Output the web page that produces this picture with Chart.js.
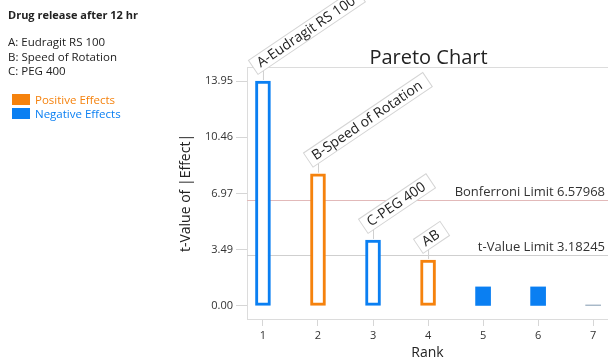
<!DOCTYPE html>
<html lang="en">
<head>
<meta charset="UTF-8">
<title>Pareto Chart</title>
<script src="https://cdn.jsdelivr.net/npm/chart.js"></script>
<style>
  body { margin: 0; background: #fff; font-family: 'Open Sans', sans-serif; }
  #wrap { position: relative; width: 608px; height: 361px; }
  #side { position: absolute; left: 8px; top: 0; font-size: 11.5px; color: #222; }
  #side .hd { position: absolute; top: 7px; font-weight: bold; white-space: nowrap; font-size: 11px; }
  #side .fac { position: absolute; white-space: nowrap; }
  #side .key { position: absolute; left: 4px; white-space: nowrap; }
  #side .key span { display: inline-block; width: 18px; height: 11px; vertical-align: -1px; margin-right: 5px; }
</style>
</head>
<body>
<div id="wrap">
  <canvas id="myChart" width="608" height="361"></canvas>
  <div id="side"></div>
</div>
<script>
// effects in rank order
const ranks = [1, 2, 3, 4, 5, 6, 7];
const tValues = [13.95, 8.2, 4.09, 2.85, 1.18, 1.18, 0.06];
const effectLabels = ['A-Eudragit RS 100', 'B-Speed of Rotation', 'C-PEG 400', 'AB', '', '', ''];
const effectSign = ['neg', 'pos', 'neg', 'pos', 'neg', 'neg', 'none'];
const significant = [true, true, true, true, false, false, false];
const yTicks = [0, 3.49, 6.97, 10.46, 13.95];
const bonferroniLimit = 6.57968;
const tValueLimit = 3.18245;
const factors = ['A: Eudragit RS 100', 'B: Speed of Rotation', 'C: PEG 400'];
const responseName = 'Drug release after 12 hr';

const ORANGE = '#f5820d';
const BLUE = '#0a7ff2';
const signColor = { pos: ORANGE, neg: BLUE, none: '#8ea4b8' };

// side panel: response, factor names and legend
const side = document.getElementById('side');
let html = '<div class="hd">' + responseName + '</div>';
factors.forEach((f, i) => {
    html += '<div class="fac" style="top:' + (34 + i * 14.5) + 'px">' + f + '</div>';
});
html += '<div class="key" style="top:92px;color:' + ORANGE + '"><span style="background:' + ORANGE + '"></span>Positive Effects</div>';
html += '<div class="key" style="top:106px;color:' + BLUE + '"><span style="background:' + BLUE + '"></span>Negative Effects</div>';
side.innerHTML = html;

const FONT = "'Open Sans', sans-serif";

const paretoPlugin = {
    id: 'paretoPlugin',
    beforeDatasetsDraw(chart) {
        const ctx = chart.ctx;
        const area = chart.chartArea;
        const y = chart.scales.y;
        ctx.save();
        // frame
        ctx.strokeStyle = '#dcdcdc';
        ctx.lineWidth = 1;
        ctx.strokeRect(area.left + 0.5, area.top + 0.5, area.right - area.left, area.bottom - area.top);
        // limit lines
        const limits = [
            { v: bonferroniLimit, text: 'Bonferroni Limit ' + bonferroniLimit, color: '#e2b9b9' },
            { v: tValueLimit, text: 't-Value Limit ' + tValueLimit, color: '#cfcfcf' }
        ];
        ctx.font = '13px ' + FONT;
        ctx.textAlign = 'right';
        ctx.textBaseline = 'alphabetic';
        limits.forEach(l => {
            const py = Math.round(y.getPixelForValue(l.v)) + 0.5;
            ctx.strokeStyle = l.color;
            ctx.beginPath();
            ctx.moveTo(area.left, py);
            ctx.lineTo(area.right, py);
            ctx.stroke();
            ctx.fillStyle = '#333';
            ctx.fillText(l.text, area.right - 3, py - 5);
        });
        // title
        ctx.font = '20px ' + FONT;
        ctx.textAlign = 'center';
        ctx.fillStyle = '#222';
        ctx.fillText('Pareto Chart', (area.left + area.right) / 2 + 1, 64);
        ctx.restore();
    },
    afterDatasetsDraw(chart) {
        const ctx = chart.ctx;
        const meta = chart.getDatasetMeta(0);
        ctx.save();
        ctx.font = '14px ' + FONT;
        effectLabels.forEach((lab, i) => {
            if (!lab) return;
            const bar = meta.data[i];
            const x = bar.x;
            const top = bar.y - 1;
            const ay = top - 9;
            // leader line
            ctx.strokeStyle = '#cfcfcf';
            ctx.lineWidth = 1;
            ctx.beginPath();
            ctx.moveTo(x + 0.5, top);
            ctx.lineTo(x + 0.5, ay);
            ctx.stroke();
            // rotated label box
            const w = ctx.measureText(lab).width;
            ctx.save();
            ctx.translate(x, ay);
            ctx.rotate(-34 * Math.PI / 180);
            ctx.fillStyle = '#fff';
            ctx.fillRect(-6, -17, w + 14, 17);
            ctx.strokeStyle = '#d4d4d4';
            ctx.strokeRect(-6, -17, w + 14, 17);
            ctx.fillStyle = '#222';
            ctx.textAlign = 'left';
            ctx.textBaseline = 'middle';
            ctx.fillText(lab, 0, -8);
            ctx.restore();
        });
        ctx.restore();
    }
};

new Chart(document.getElementById('myChart'), {
    type: 'bar',
    data: {
        datasets: [{
            data: ranks.map((r, i) => ({ x: r, y: tValues[i] })),
            backgroundColor: effectSign.map((s, i) => significant[i] ? '#fff' : signColor[s]),
            borderColor: effectSign.map(s => signColor[s]),
            borderWidth: significant.map(s => s ? 3 : 0),
            borderSkipped: false,
            barThickness: 15
        }]
    },
    options: {
        responsive: false,
        animation: false,
        layout: { padding: { left: 178, top: 67, right: 0, bottom: 0 } },
        plugins: {
            legend: { display: false },
            tooltip: { enabled: false }
        },
        scales: {
            x: {
                type: 'linear',
                offset: false,
                min: 0.71,
                max: 7.27,
                afterBuildTicks: s => { s.ticks = ranks.map(v => ({ value: v })); },
                afterFit: s => { s.height = 42; },
                grid: { drawOnChartArea: false, offset: false, color: '#d6d6d6', tickLength: 7 },
                border: { color: '#dcdcdc' },
                ticks: { color: '#333', font: { family: FONT, size: 11 }, padding: 3, maxRotation: 0 },
                title: { display: true, text: 'Rank', color: '#222', font: { family: FONT, size: 14 }, padding: { top: 0, bottom: 0 } }
            },
            y: {
                min: -0.81,
                max: 14.82,
                afterBuildTicks: s => { s.ticks = yTicks.map(v => ({ value: v })); },
                afterFit: s => { s.width = 69; },
                grid: { drawOnChartArea: false, color: '#d6d6d6', tickLength: 11 },
                border: { color: '#dcdcdc' },
                ticks: {
                    color: '#333',
                    font: { family: FONT, size: 11 },
                    padding: 3,
                    callback: v => v.toFixed(2)
                },
                title: { display: true, text: 't-Value of |Effect|', color: '#222', font: { family: FONT, size: 14 }, padding: { top: 0, bottom: 0 } }
            }
        }
    },
    plugins: [paretoPlugin]
});
</script>
</body>
</html>
